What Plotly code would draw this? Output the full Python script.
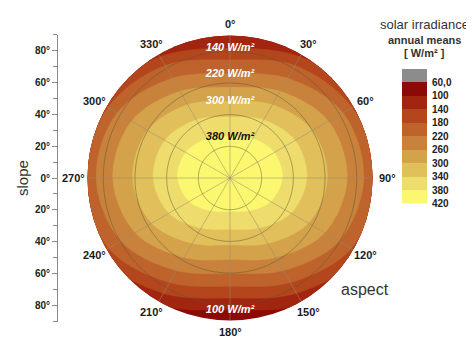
import numpy as np
import plotly.graph_objects as go

# ---------------- data ----------------
ASPECT = [0, 30, 60, 90, 120, 150, 180, 210, 240, 270, 300, 330]   # degrees
# slope (deg) of each iso-irradiance boundary at the aspect angles above
CONTOUR_LEVELS = [100, 140, 180, 220, 260, 300, 340, 380]
R100 = [96, 100, 106, 108, 104.8, 92.2, 83.2, 92.2, 104.8, 108, 106, 100]
R140 = [81.9, 88.5, 99.1, 100, 96.4, 84.1, 75.7, 84.1, 96.4, 100, 99.1, 88.5]
R180 = [74.5, 82.0, 89.0, 92, 88.6, 76.2, 68.3, 76.2, 88.6, 92, 89.0, 82.0]
R220 = [65.8, 72.8, 82.3, 84.5, 79.6, 67.5, 60.2, 67.5, 79.6, 84.5, 82.3, 72.8]
R260 = [57.1, 63.2, 71.8, 74, 69.1, 57.9, 51.5, 57.9, 69.1, 74, 71.8, 63.2]
R300 = [48.4, 53.4, 60.1, 61.5, 57.1, 47.6, 42.2, 47.6, 57.1, 61.5, 60.1, 53.4]
R340 = [38.5, 42.4, 47.5, 48.5, 44.4, 36.5, 32.3, 36.5, 44.4, 48.5, 47.5, 42.4]
R380 = [26, 28.7, 32.3, 33, 29.6, 23.9, 21, 23.9, 29.6, 33, 32.3, 28.7]
CONTOURS = [R100, R140, R180, R220, R260, R300, R340, R380]

# colour classes (legend, top to bottom)
CLASS_EDGES = [20, 60, 100, 140, 180, 220, 260, 300, 340, 380, 420]
CLASS_COLORS = ["#8c8c8c", "#8c0a04", "#a2250f", "#b3461c", "#be632c",
                "#c9823c", "#d5a24c", "#e1c05c", "#eedd6c", "#fbf870"]
LEGEND_TICKS = [60, 100, 140, 180, 220, 260, 300, 340, 380, 420]
LEGEND_TEXT = ["60,0", "100", "140", "180", "220", "260", "300", "340", "380", "420"]

SLOPE_TICKS = [-80, -60, -40, -20, 0, 20, 40, 60, 80]
SLOPE_MINOR = [-90, -70, -50, -30, -10, 10, 30, 50, 70, 90]
RADIAL_GRID = [20, 40, 60, 80]

LABELS = ["140 W/m²", "220 W/m²", "300 W/m²", "380 W/m²", "100 W/m²"]
LABEL_COLORS = ["white", "white", "white", "#111111", "white"]

FONT = "Liberation Sans, Arial, sans-serif"

# the page adds a small offset: place everything relative to it
OFFX, OFFY = 8, 5
W, H = 474 - OFFX, 355 - OFFY


def px(x):
    return (x - OFFX) / W


def py(y):
    return 1 - (y - OFFY) / H


# ---------------- figure ----------------
fig = go.Figure()

# filled iso-irradiance areas, outermost first
for lvl, rr in zip(CONTOUR_LEVELS, CONTOURS):
    cls = CLASS_EDGES.index(lvl)  # band [lvl, lvl+40]
    th = [ASPECT[-1]] + ASPECT + [360, 390]
    rv = [rr[-1]] + rr + [rr[0], rr[1]]
    fig.add_trace(go.Scatterpolar(
        theta=th, r=rv, mode="lines", fill="toself",
        fillcolor=CLASS_COLORS[cls],
        line=dict(color=CLASS_COLORS[cls], width=0.5, shape="spline", smoothing=1.0),
        hoverinfo="skip", showlegend=False))

# grid drawn above the fills
circ = np.linspace(0, 360, 241)
for rg in RADIAL_GRID:
    fig.add_trace(go.Scatterpolar(
        theta=circ, r=[rg] * len(circ), mode="lines",
        line=dict(color="rgba(95,85,50,0.55)", width=0.9),
        hoverinfo="skip", showlegend=False))
for a in ASPECT:
    fig.add_trace(go.Scatterpolar(
        theta=[a, a], r=[0, 90], mode="lines",
        line=dict(color="rgba(150,140,110,0.6)", width=0.9),
        hoverinfo="skip", showlegend=False))

# contour value labels
fig.add_trace(go.Scatterpolar(
    theta=[0, 0, 0, 0, 180],
    r=[R140[0], R220[0], R300[0], R380[0], R100[6]],
    mode="text", text=LABELS,
    textfont=dict(family=FONT, size=11, color=LABEL_COLORS, weight="bold", style="italic"),
    hoverinfo="skip", showlegend=False))

# colour legend
fig.add_trace(go.Heatmap(
    x=[0], y=[(CLASS_EDGES[i] + CLASS_EDGES[i + 1]) / 2 for i in range(len(CLASS_COLORS))],
    z=[[i] for i in range(len(CLASS_COLORS))],
    zmin=-0.5, zmax=len(CLASS_COLORS) - 0.5,
    colorscale=[c for i, col in enumerate(CLASS_COLORS)
                for c in ([i / len(CLASS_COLORS), col], [(i + 1) / len(CLASS_COLORS), col])],
    showscale=False, hoverinfo="skip", xaxis="x2", yaxis="y2"))

# helper trace so the slope axis is drawn
fig.add_trace(go.Scatter(x=[0, 0], y=[-90, 90], mode="markers",
                         marker=dict(opacity=0), hoverinfo="skip", showlegend=False,
                         xaxis="x", yaxis="y"))

cx, cy, R = 230, 178, 145
LABEL_R = 157  # px distance of aspect tick labels from the centre

annotations = [
    dict(x=px(cx + LABEL_R * np.sin(np.radians(a))), y=py(cy - LABEL_R * np.cos(np.radians(a))),
         xref="paper", yref="paper", text=f"{a}°", xanchor="center", yanchor="middle",
         showarrow=False, font=dict(family=FONT, size=11, color="#1a1a1a", weight="bold"))
    for a in ASPECT
]
annotations += [
    dict(x=px(424), y=py(22), xref="paper", yref="paper", text="solar irradiance",
         xanchor="center", yanchor="middle",
         showarrow=False, font=dict(family=FONT, size=13, color="#333333")),
    dict(x=px(424), y=py(38), xref="paper", yref="paper", text="<b>annual means</b>",
         xanchor="center", yanchor="middle",
         showarrow=False, font=dict(family=FONT, size=11, color="#333333")),
    dict(x=px(424), y=py(51), xref="paper", yref="paper", text="<b>[ W/m² ]</b>",
         xanchor="center", yanchor="middle",
         showarrow=False, font=dict(family=FONT, size=11, color="#333333")),
    dict(x=px(365), y=py(291), xref="paper", yref="paper", text="aspect",
         xanchor="center", yanchor="middle",
         showarrow=False, font=dict(family=FONT, size=16, color="#333333")),
    dict(x=px(22), y=py(178), xref="paper", yref="paper", text="slope",
         xanchor="center", yanchor="middle",
         textangle=-90, showarrow=False, font=dict(family=FONT, size=15, color="#333333")),
]

fig.update_layout(
    width=W, height=H, margin=dict(l=0, r=0, t=0, b=0),
    paper_bgcolor="white", plot_bgcolor="rgba(0,0,0,0)",
    showlegend=False, font=dict(family=FONT, color="#222222"),
    polar=dict(
        domain=dict(x=[px(cx - R), px(cx + R)], y=[py(cy + R), py(cy - R)]),
        bgcolor=CLASS_COLORS[1],
        angularaxis=dict(rotation=90, direction="clockwise",
                         tickmode="array", tickvals=ASPECT,
                         showticklabels=False,
                         showgrid=False, showline=False, ticks=""),
        radialaxis=dict(range=[0, 90], showgrid=False, showline=False,
                        showticklabels=False, ticks=""),
    ),
    xaxis=dict(domain=[px(58), px(60)], visible=False, range=[-1, 1], fixedrange=True),
    yaxis=dict(domain=[py(cy + R + 1), py(cy - R - 1)], range=[-90, 90], anchor="x",
               tickmode="array", tickvals=SLOPE_TICKS,
               ticktext=[f"{abs(v)}°" for v in SLOPE_TICKS],
               ticks="outside", ticklen=5, tickcolor="#8a8a8a", tickwidth=1,
               showline=True, linecolor="#8a8a8a", linewidth=1,
               showgrid=False, zeroline=False,
               minor=dict(tickmode="array", tickvals=SLOPE_MINOR, ticks="outside",
                          ticklen=4, tickcolor="#8a8a8a", showgrid=False),
               tickfont=dict(family=FONT, size=10, color="#222222", weight="bold")),
    xaxis2=dict(domain=[px(402), px(427)], range=[-0.5, 0.5], visible=False, anchor="y2"),
    yaxis2=dict(domain=[py(204), py(67)], range=[420, 20], anchor="x2",
                side="right", tickmode="array", tickvals=LEGEND_TICKS, ticktext=LEGEND_TEXT,
                ticks="", showgrid=False, zeroline=False, showline=False,
                ticklabelstandoff=4,
                tickfont=dict(family=FONT, size=10, color="#222222", weight="bold")),
    annotations=annotations,
)

fig.write_html("out.html")
